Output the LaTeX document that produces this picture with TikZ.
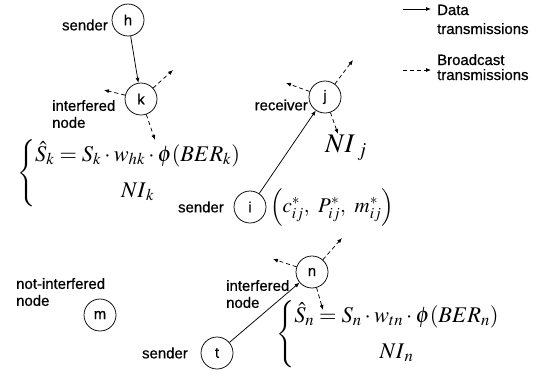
\documentclass[tikz,border=0pt]{standalone}
\usepackage{mathptmx}
\usepackage[no-math]{fontspec}
\setsansfont{Liberation Sans}[FakeBold=0.6]
\usetikzlibrary{arrows.meta}
\begin{document}
\begin{tikzpicture}[x=1bp,y=-1bp,
  nd/.style={circle, draw, minimum size=32bp, inner sep=0pt, line width=0.75pt,
    font=\sffamily\fontsize{15}{17}\selectfont},
  lbl/.style={inner sep=0pt, align=left, font=\sffamily\fontsize{15}{17}\selectfont},
  datatx/.style={-{Latex[length=5bp,width=4bp]}, line width=0.75pt},
  bcast/.style={datatx, dash pattern=on 4bp off 3bp},
  eq/.style={inner sep=0pt, font=\fontsize{22.5}{26}\selectfont}]
\useasboundingbox (0,0) rectangle (543,378);

% nodes
\node[nd] (h) at (128,20) {h};
\node[nd] (k) at (141,99) {k};
\node[nd] (j) at (325,97) {j};
\node[nd] (i) at (250,207) {i};
\node[nd] (m) at (100,315) {m};
\node[nd] (t) at (217,353) {t};
\node[nd] (n) at (312,272) {n};

% labels
\node[lbl, anchor=east] (lh) at (108,25) {sender};
\node[lbl, anchor=west] (lk) at (52,114) {interfered\\node};
\node[lbl, anchor=east] (lj) at (308,105) {receiver};
\node[lbl, anchor=east] (li) at (224,207) {sender};
\node[lbl, anchor=west] (lm) at (16,292) {not-interfered\\node};
\node[lbl, anchor=east] (lt) at (188,353) {sender};
\node[lbl, anchor=west] (ln) at (226,294) {interfered\\node};

% data transmissions
\draw[datatx] (h) -- (k);
\draw[datatx] (i) -- (j);
\draw[datatx] (t) -- (n);

% broadcast
\coordinate (kur) at (173,70);
\coordinate (kl) at (104,90);
\coordinate (kd) at (155,140);
\coordinate (jur) at (353,60);
\coordinate (jl) at (286,83);
\coordinate (jd) at (338,134);
\coordinate (nur) at (342,238);
\coordinate (nl) at (273,259);
\coordinate (nd) at (323,310);
\foreach \a/\b in {k/kur,k/kl,k/kd,j/jur,j/jl,j/jd,n/nur,n/nl,n/nd}
  \draw[bcast] (\a) -- (\b);

% equations
\node[eq, anchor=west] (ek) at (17,173)
  {$\left\{\begin{array}{@{}c@{}}\hat{S}_k = S_k\cdot w_{hk}\cdot\phi(BER_k)\\[10pt] NI_{\,k}\end{array}\right.$};
\node[eq, anchor=west] (en) at (276,334)
  {$\left\{\begin{array}{@{}c@{}}\hat{S}_n = S_n\cdot w_{tn}\cdot\phi(BER_n)\\[10pt] NI_{\,n}\end{array}\right.$};
\node[inner sep=0pt, font=\fontsize{27}{30}\selectfont] (eNI) at (346,148) {$NI_{\;j}$};
\node[inner sep=0pt, anchor=west, font=\fontsize{21}{24}\selectfont] (eci) at (270,207)
  {$\left(c^{*}_{ij},\ P^{*}_{ij},\ m^{*}_{ij}\right)$};

% legend
\coordinate (d1) at (403,9);
\coordinate (d2) at (431,9);
\coordinate (b1) at (403,70);
\coordinate (b2) at (431,70);
\draw[datatx] (d1) -- (d2);
\draw[bcast] (b1) -- (b2);
\node[lbl, anchor=base west] (t1) at (437,15) {Data};
\node[lbl, anchor=base west] (t2) at (437,34) {transmissions};
\node[lbl, anchor=base west] (t3) at (437,65) {Broadcast};
\node[lbl, anchor=base west] (t4) at (437,80) {transmissions};
\end{tikzpicture}
\end{document}
